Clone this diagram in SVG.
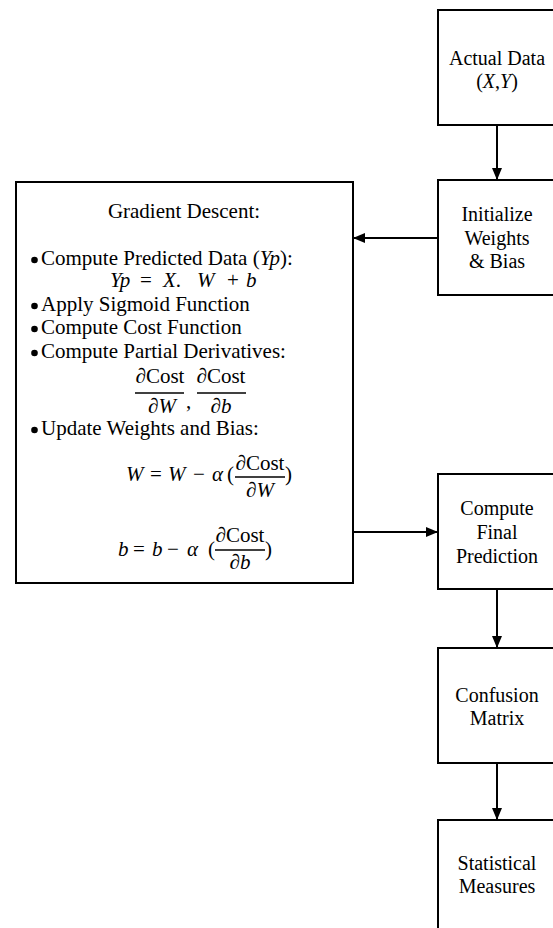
<svg xmlns="http://www.w3.org/2000/svg" width="553" height="928" viewBox="0 0 553 928">
<defs>
<marker id="ah" viewBox="0 0 12 10" refX="12" refY="5" markerWidth="12" markerHeight="10" markerUnits="userSpaceOnUse" orient="auto">
<path d="M0,0 L12,5 L0,10 Z" fill="#000"/>
</marker>
<style>
.box{fill:#fff;stroke:#000;stroke-width:2}
.t{font-family:"Liberation Serif","Times New Roman",serif;font-size:20px;fill:#000}
.g{font-size:21px}
.c{text-anchor:middle}
.i{font-style:italic}
.con{stroke:#000;stroke-width:2;fill:none}
.bar{stroke:#000;stroke-width:1.7}
.dot{fill:#000}
</style>
</defs>
<rect width="553" height="928" fill="#fff"/>
<g id="connectors">
<line class="con" x1="497" y1="125" x2="497" y2="180" marker-end="url(#ah)"/>
<line class="con" x1="438" y1="238" x2="353" y2="238" marker-end="url(#ah)"/>
<line class="con" x1="353" y1="532" x2="438" y2="532" marker-end="url(#ah)"/>
<line class="con" x1="497" y1="589" x2="497" y2="648" marker-end="url(#ah)"/>
<line class="con" x1="497" y1="763" x2="497" y2="820" marker-end="url(#ah)"/>
</g>
<g id="actual-data">
<rect class="box" x="438" y="10" width="118" height="115"/>
<text class="t c" x="497" y="65">Actual Data</text>
<text class="t c" x="497" y="88">(<tspan class="i">X</tspan>,<tspan class="i">Y</tspan>)</text>
</g>
<g id="initialize">
<rect class="box" x="438" y="180" width="118" height="115"/>
<text class="t c" x="497" y="221">Initialize</text>
<text class="t c" x="497" y="245">Weights</text>
<text class="t c" x="497" y="268">&amp; Bias</text>
</g>
<g id="gradient-descent">
<rect class="box" x="16" y="182" width="337" height="401"/>
<text class="t g c" x="184" y="218">Gradient Descent:</text>
<circle class="dot" cx="34.5" cy="260" r="3.3"/>
<text class="t g" x="41" y="265">Compute Predicted Data (<tspan class="i">Yp</tspan>):</text>
<text class="t g i" x="110" y="287">Yp</text>
<text class="t g" x="140" y="287">=</text>
<text class="t g i" x="163" y="287">X<tspan font-style="normal">.</tspan></text>
<text class="t g i" x="197" y="287">W</text>
<text class="t g" x="227" y="287">+</text>
<text class="t g i" x="246" y="287">b</text>
<circle class="dot" cx="34.5" cy="306" r="3.3"/>
<text class="t g" x="41" y="311">Apply Sigmoid Function</text>
<circle class="dot" cx="34.5" cy="329" r="3.3"/>
<text class="t g" x="41" y="334">Compute Cost Function</text>
<circle class="dot" cx="34.5" cy="353" r="3.3"/>
<text class="t g" x="41" y="358">Compute Partial Derivatives:</text>
<text class="t g c" x="160" y="383">∂Cost</text>
<line class="bar" x1="135" y1="393" x2="184" y2="393"/>
<text class="t g c" x="162" y="413">∂<tspan class="i">W</tspan></text>
<text class="t g" x="186" y="408">,</text>
<text class="t g c" x="221" y="383">∂Cost</text>
<line class="bar" x1="197" y1="393" x2="246" y2="393"/>
<text class="t g c" x="221" y="413">∂<tspan class="i">b</tspan></text>
<circle class="dot" cx="34.5" cy="430" r="3.3"/>
<text class="t g" x="41" y="435">Update Weights and Bias:</text>
<text class="t g i" x="126" y="481">W</text>
<text class="t g" x="150" y="481">=</text>
<text class="t g i" x="168" y="481">W</text>
<text class="t g" x="193" y="481">−</text>
<text class="t g i" x="212" y="481">α</text>
<text class="t g" x="227" y="481">(</text>
<text class="t g c" x="260" y="470">∂Cost</text>
<line class="bar" x1="235" y1="477" x2="285" y2="477"/>
<text class="t g c" x="260" y="497">∂<tspan class="i">W</tspan></text>
<text class="t g" x="285" y="481">)</text>
<text class="t g i" x="118" y="556">b</text>
<text class="t g" x="133" y="556">=</text>
<text class="t g i" x="152" y="556">b</text>
<text class="t g" x="167" y="556">−</text>
<text class="t g i" x="187" y="556">α</text>
<text class="t g" x="208" y="556">(</text>
<text class="t g c" x="240" y="542">∂Cost</text>
<line class="bar" x1="215" y1="550" x2="265" y2="550"/>
<text class="t g c" x="240" y="569">∂<tspan class="i">b</tspan></text>
<text class="t g" x="265" y="556">)</text>
</g>
<g id="final-prediction">
<rect class="box" x="438" y="474" width="118" height="115"/>
<text class="t c" x="497" y="515">Compute</text>
<text class="t c" x="497" y="539">Final</text>
<text class="t c" x="497" y="563">Prediction</text>
</g>
<g id="confusion-matrix">
<rect class="box" x="438" y="648" width="118" height="115"/>
<text class="t c" x="497" y="702">Confusion</text>
<text class="t c" x="497" y="725">Matrix</text>
</g>
<g id="statistical-measures">
<rect class="box" x="438" y="820" width="118" height="115"/>
<text class="t c" x="497" y="870">Statistical</text>
<text class="t c" x="497" y="893">Measures</text>
</g>
</svg>
